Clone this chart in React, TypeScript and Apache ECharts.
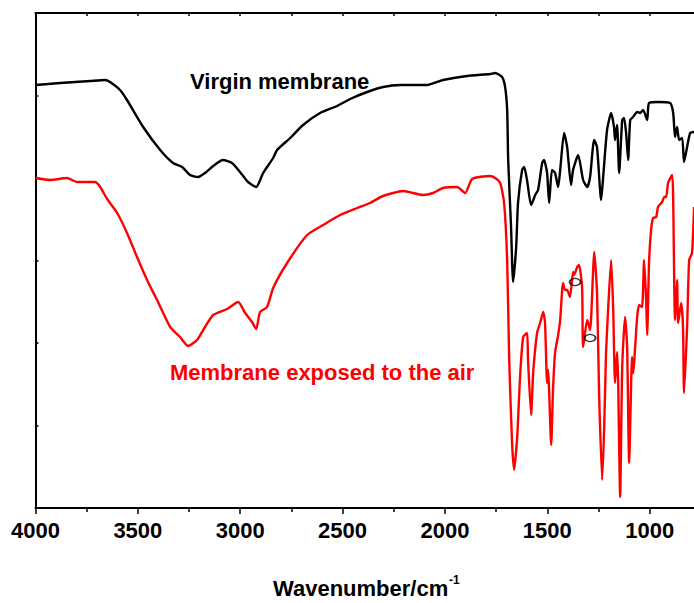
import React, { useEffect, useRef } from "react";
import * as echarts from "echarts";

// Wavenumber (cm-1) and relative transmittance (arbitrary units)
const virginWavenumbers = [
  4000, 3880, 3733, 3660, 3636, 3587, 3553, 3474, 3391, 3328, 3284, 3245, 3206, 3172, 3132, 3084,
  3040, 3001, 2962, 2922, 2888, 2839, 2820, 2756, 2693, 2610, 2527, 2463, 2380, 2302, 2219, 2087,
  2009, 1892, 1779, 1755, 1721, 1706, 1696, 1691, 1677, 1667, 1652, 1643, 1623, 1613, 1599, 1579,
  1559, 1545, 1525, 1516, 1501, 1491, 1477, 1462, 1447, 1437, 1418, 1403, 1384, 1374, 1349, 1325,
  1305, 1291, 1271, 1257, 1237, 1227, 1208, 1188, 1174, 1169, 1159, 1149, 1134, 1125, 1115, 1105,
  1095, 1081, 1061, 1047, 1032, 1012, 1003, 959, 900, 885, 876, 866, 856, 841, 832, 817, 802, 783,
];
const virginValues = [
  84.6, 85.0, 85.4, 85.6, 85.2, 83.6, 81.6, 76.2, 71.6, 69.0, 68.2, 66.6, 66.2, 67.0, 68.4, 69.6,
  69.0, 67.2, 65.2, 64.2, 67.0, 70.0, 71.6, 74.0, 76.6, 79.0, 80.4, 81.8, 83.2, 84.2, 84.6, 84.6,
  85.6, 86.4, 86.8, 87.0, 86.2, 84.2, 79.6, 69.6, 56.2, 45.2, 52.2, 61.0, 67.6, 68.2, 65.6, 60.6,
  62.6, 63.6, 69.0, 69.6, 67.0, 61.0, 67.6, 67.0, 64.2, 67.6, 75.0, 72.2, 64.6, 67.6, 70.6, 65.6,
  64.2, 66.2, 73.6, 72.2, 61.6, 66.2, 75.6, 79.0, 76.2, 73.6, 76.6, 67.0, 77.6, 78.0, 75.0, 69.6,
  77.6, 78.2, 79.2, 79.0, 79.6, 77.6, 81.0, 81.2, 81.0, 79.0, 74.2, 76.2, 73.6, 74.0, 69.2, 72.2, 75.0, 75.2,
];

const exposedWavenumbers = [
  4000, 3929, 3846, 3797, 3709, 3684, 3650, 3601, 3553, 3504, 3455, 3406, 3342, 3294, 3255, 3211,
  3172, 3132, 3064, 3010, 2976, 2942, 2922, 2903, 2869, 2839, 2771, 2673, 2595, 2512, 2429, 2366,
  2302, 2204, 2107, 2058, 2009, 1940, 1901, 1867, 1779, 1755, 1730, 1711, 1696, 1686, 1672, 1662,
  1647, 1633, 1618, 1599, 1594, 1579, 1569, 1550, 1535, 1520, 1511, 1501, 1496, 1481, 1472, 1462,
  1447, 1437, 1423, 1413, 1403, 1389, 1374, 1369, 1354, 1345, 1330, 1325, 1305, 1291, 1276, 1271,
  1257, 1247, 1232, 1222, 1213, 1203, 1188, 1178, 1169, 1159, 1154, 1144, 1134, 1120, 1110, 1100,
  1086, 1081, 1061, 1051, 1037, 1027, 1017, 1012, 1003, 993, 983, 968, 959, 939, 929, 919,
  910, 890, 885, 876, 866, 861, 846, 837, 832, 817, 807, 793, 783,
];
const exposedValues = [
  66.0, 65.6, 66.0, 65.2, 65.2, 64.2, 61.8, 59.0, 55.0, 50.2, 45.6, 41.6, 36.2, 34.2, 32.4, 33.6,
  36.2, 38.6, 39.8, 41.2, 39.0, 37.2, 35.8, 39.2, 40.2, 44.0, 49.0, 54.6, 56.6, 58.6, 60.0, 61.0,
  62.4, 63.4, 62.6, 63.0, 64.0, 64.2, 63.0, 65.8, 66.4, 66.0, 65.0, 61.0, 49.6, 29.6, 13.0, 7.6,
  14.2, 26.2, 34.2, 35.0, 29.6, 18.6, 27.0, 35.0, 37.0, 39.2, 37.0, 25.0, 27.6, 12.6, 23.6, 31.0,
  34.6, 37.6, 45.0, 43.6, 43.6, 42.2, 47.2, 46.6, 48.2, 48.6, 44.2, 32.2, 37.6, 35.6, 47.6, 51.2,
  43.0, 23.0, 5.6, 16.2, 31.0, 39.6, 49.6, 39.6, 25.0, 31.2, 25.6, 2.2, 28.2, 38.2, 32.2, 9.0,
  30.2, 27.0, 38.2, 40.6, 40.2, 49.6, 41.6, 34.6, 49.0, 55.6, 58.0, 58.2, 60.2, 61.2, 62.2, 62.2,
  65.0, 66.6, 61.6, 37.6, 45.6, 37.0, 41.0, 36.2, 23.0, 36.2, 49.6, 51.0, 60.2,
];

// small hollow ellipse markers on the exposed spectrum
const markerWavenumbers = [1364, 1291];
const markerValues = [45.2, 34.0];

const xTickLabels = ["4000", "3500", "3000", "2500", "2000", "1500", "1000"];

const FONT = "'Liberation Sans', Arial, Helvetica, sans-serif";

export default function App() {
  const ref = useRef<HTMLDivElement>(null);

  useEffect(() => {
    if (!ref.current) return;
    const chart = echarts.init(ref.current, undefined, { renderer: "svg" });
    const virgin = virginWavenumbers.map((w, i) => [w, virginValues[i]]);
    const exposed = exposedWavenumbers.map((w, i) => [w, exposedValues[i]]);
    const markers = markerWavenumbers.map((w, i) => [w, markerValues[i]]);

    chart.setOption({
      animation: false,
      backgroundColor: "#ffffff",
      grid: { left: 35.5, right: 48, top: 13, bottom: 95, containLabel: false },
      xAxis: [
        {
          type: "value",
          position: "bottom",
          inverse: true,
          min: 500,
          max: 4000,
          interval: 500,
          axisLine: { show: true, onZero: false, lineStyle: { color: "#000", width: 2 } },
          axisTick: { show: true, inside: false, length: 6, lineStyle: { color: "#000", width: 1.5 } },
          minorTick: { show: true, splitNumber: 2, length: 4, lineStyle: { color: "#000", width: 1.5 } },
          splitLine: { show: false },
          axisLabel: {
            show: true,
            margin: 11,
            color: "#000",
            fontSize: 22,
            fontWeight: "bold",
            fontFamily: FONT,
            formatter: (v: number) => (xTickLabels.includes(String(v)) ? String(v) : ""),
          },
        },
        {
          type: "value",
          position: "top",
          inverse: true,
          min: 500,
          max: 4000,
          interval: 250,
          axisLine: { show: true, onZero: false, lineStyle: { color: "#000", width: 2 } },
          axisTick: { show: true, inside: true, length: 3, lineStyle: { color: "#000", width: 1.5 } },
          splitLine: { show: false },
          axisLabel: { show: false },
        },
      ],
      yAxis: {
        type: "value",
        min: 0,
        max: 99,
        interval: 16.5,
        axisLine: { show: true, onZero: false, lineStyle: { color: "#000", width: 2 } },
        axisTick: { show: true, inside: true, length: 3, lineStyle: { color: "#000", width: 1.5 } },
        splitLine: { show: false },
        axisLabel: { show: false },
      },
      series: [
        {
          type: "line",
          name: "Virgin membrane",
          data: virgin,
          showSymbol: false,
          smooth: 0.2,
          lineStyle: { color: "#000", width: 2.4 },
          itemStyle: { color: "#000" },
          z: 3,
        },
        {
          type: "line",
          name: "Membrane exposed to the air",
          data: exposed,
          showSymbol: false,
          smooth: 0.2,
          lineStyle: { color: "#ff0000", width: 2.4 },
          itemStyle: { color: "#ff0000" },
          z: 2,
        },
        {
          type: "scatter",
          data: markers,
          symbol: "circle",
          symbolSize: [11, 7],
          itemStyle: { color: "rgba(0,0,0,0)", borderColor: "#000", borderWidth: 1.5 },
          z: 4,
        },
      ],
      graphic: [
        {
          type: "text",
          left: 190,
          top: 70,
          style: { text: "Virgin membrane", fill: "#000", font: `bold 22px ${FONT}` },
        },
        {
          type: "text",
          left: 170,
          top: 361,
          style: { text: "Membrane exposed to the air", fill: "#ff0000", font: `bold 22px ${FONT}` },
        },
        {
          type: "text",
          left: 273,
          top: 577,
          style: { text: "Wavenumber/cm", fill: "#000", font: `bold 22px ${FONT}` },
        },
        {
          type: "text",
          left: 449,
          top: 574,
          style: { text: "-1", fill: "#000", font: `bold 12px ${FONT}` },
        },
      ],
    });
    return () => chart.dispose();
  }, []);

  return (
    <div style={{ position: "absolute", left: 0, top: 0, width: 694, height: 603, overflow: "hidden", background: "#fff" }}>
      <div ref={ref} style={{ width: 800, height: 603 }} />
    </div>
  );
}
